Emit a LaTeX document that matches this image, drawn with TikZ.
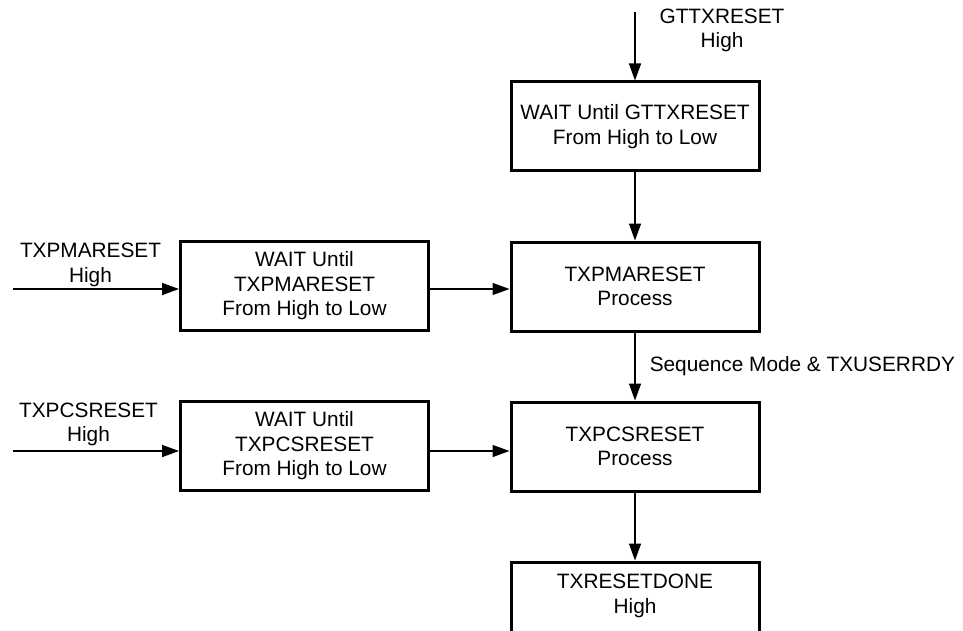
\documentclass[tikz,border=0pt]{standalone}
\usepackage{fontspec}
\setmainfont{Liberation Sans}
\usetikzlibrary{arrows.meta}
\begin{document}
\begin{tikzpicture}[x=1pt,y=-1pt,
  every node/.style={font=\fontsize{20.8}{24.5}\selectfont, align=center, inner sep=0pt},
  box/.style={draw, line width=3pt, minimum width=248pt, minimum height=89pt},
  arr/.style={line width=1.5pt, -{Triangle[length=17pt,width=12pt]}},
]
\useasboundingbox (0,0) rectangle (963,631);
\clip (0,0) rectangle (963,631);

% right column: the reset sequence
\node[box] (gtw)  at (635,126.5) {WAIT Until GTTXRESET\\From High to Low};
\node[box] (pmap) at (635,286.5) {TXPMARESET\\Process};
\node[box] (pcsp) at (635,446.5) {TXPCSRESET\\Process};
\node[box] (done) at (635,606.5) {};
\node (donetxt) at (635,596) {TXRESETDONE\\High};

% left column: wait states for the individual resets
\node[box] (pmaw) at (304.5,286) {WAIT Until\\TXPMARESET\\From High to Low};
\node[box] (pcsw) at (304.5,446) {WAIT Until\\TXPCSRESET\\From High to Low};

% input signals
\coordinate (gtin)  at (635,12);
\coordinate (pmain) at (13,289);
\coordinate (pcsin) at (13,451);
\node (gtlbl)  at (722,30.5)  {GTTXRESET\\High};
\node (pmalbl) at (90.5,265)  {TXPMARESET\\High};
\node (pcslbl) at (88.5,424.5) {TXPCSRESET\\High};

% connectors
\draw[arr] (gtin) -- (gtw.north);
\draw[arr] (gtw) -- (pmap);
\draw[arr] (pmap) -- (pcsp)
  node[pos=0.5, anchor=west, xshift=14pt] (seqlbl) {Sequence Mode \& TXUSERRDY};
\draw[arr] (pcsp) -- (done);
\draw[arr] (pmain) -- (pmaw.west |- pmain);
\draw[arr] (pcsin) -- (pcsw.west |- pcsin);
\draw[arr] ([yshift=-3pt]pmaw.east) -- ([yshift=-3pt]pmaw.east -| pmap.west);
\draw[arr] ([yshift=-5pt]pcsw.east) -- ([yshift=-5pt]pcsw.east -| pcsp.west);
\end{tikzpicture}
\end{document}
